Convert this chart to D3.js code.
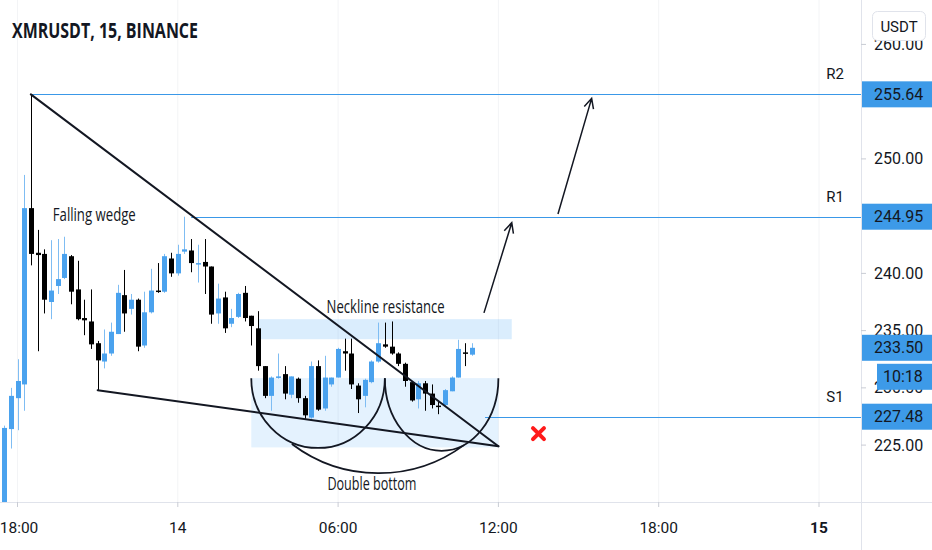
<!DOCTYPE html>
<html><head><meta charset="utf-8">
<script src="https://cdn.jsdelivr.net/npm/d3@7"></script>
<style>html,body{margin:0;padding:0;background:#fff;}svg{display:block;}</style>
</head><body>
<svg id="c" width="932" height="550"></svg>
<script>
// ---- candle data (15-minute bars, first bar 13th 17:30) ----
const opens  = [220.0,226.4,229.1,230.3,245.7,241.8,241.7,237.5,238.9,239.6,241.5,238.6,236.1,235.8,233.9,232.3,233.0,234.7,238.1,236.9,237.7,233.7,236.6,238.5,238.4,241.3,240.0,241.9,242.0,240.8,241.0,240.6,236.5,237.9,235.6,236.2,238.3,236.3,235.2,231.9,229.3,230.9,231.2,229.4,230.8,229.1,227.4,231.9,228.2,230.3,230.9,233.2,233.0,230.2,229.3,230.5,232.3,233.8,233.6,233.0,232.1,230.5,229.0,230.4,229.5,228.45,228.5,229.7,230.9,233.1,232.9];
const highs  = [226.7,230.0,232.5,248.6,255.64,243.8,242.1,242.9,243.0,243.2,241.6,241.1,237.7,238.6,234.1,235.1,235.7,239.0,240.3,238.2,237.8,238.4,240.4,240.9,241.7,241.8,242.5,244.95,243.0,242.5,243.0,240.6,239.1,238.4,236.9,238.3,238.9,236.3,236.7,231.9,231.0,233.0,231.9,231.0,230.9,229.3,232.3,232.4,232.8,230.9,233.5,234.3,234.3,230.4,230.8,232.4,235.7,235.7,235.8,233.1,232.2,230.6,230.6,230.6,230.3,228.9,229.9,231.0,234.2,233.9,233.9];
const lows   = [219.5,224.7,226.3,228.0,240.7,233.2,236.5,236.0,238.2,239.5,237.3,235.9,234.6,233.4,229.8,231.7,232.8,234.7,234.9,236.4,233.2,233.5,236.5,238.3,238.3,239.7,239.8,241.7,240.1,239.2,238.2,235.6,235.6,234.8,235.3,236.1,235.8,233.7,231.5,229.1,228.0,230.8,229.0,229.1,228.7,227.3,227.3,228.0,228.0,230.1,230.9,231.5,229.9,227.8,228.3,230.4,232.2,233.5,232.9,231.9,230.1,228.8,228.2,228.0,228.2,227.7,228.4,229.7,230.9,231.9,232.8];
const closes = [226.5,229.3,230.6,245.7,241.7,241.6,237.7,238.5,239.5,241.7,238.4,236.0,235.9,233.8,232.4,233.0,234.9,238.3,236.5,237.7,233.6,236.6,238.5,238.4,241.5,240.0,241.7,242.1,240.9,240.9,240.6,236.4,237.8,235.2,236.1,238.2,236.1,235.4,231.9,229.3,230.9,231.0,229.5,231.0,229.1,227.6,231.9,228.1,230.9,230.9,233.4,233.0,230.3,229.0,230.7,232.3,233.9,233.6,233.0,232.1,230.6,228.9,230.4,229.5,228.5,228.4,229.8,230.9,233.4,233.0,233.5];

// ---- axes ----
const timeTickHours  = [0, 6, 12, 18, 24, 30];           // hours after 13th 18:00
const timeTickLabels = ["18:00", "14", "06:00", "12:00", "18:00", "15"];
const priceTicks     = [260, 250, 240, 235, 230, 225];

// ---- levels ----
const levelNames  = ["R2", "R1", "S1"];
const levelPrices = [255.64, 244.95, 227.48];
const levelFromH  = [0.5, 6.5, 17.5];
const lastPrice   = 233.50;
const countdown   = "10:18";

// ---- drawings (hour offset, price) ----
const wedgeUpper = [[0.5, 255.64], [18.0, 224.9]];
const wedgeLower = [[3.0, 229.8], [18.0, 224.9]];
const necklineZone = [[9.0, 236.0], [18.5, 234.25]];
const bottomZone   = [[8.75, 230.85], [18.0, 224.8]];
const cupLeft  = [8.75, 13.75, 230.85, 224.75];   // x0, x1, top, bottom
const cupRight = [13.75, 18.0, 230.85, 224.5];
const bigArc   = [[10.27, 225.1], [16.71, 225.0], 222.55];
const arrows   = [[[17.46, 236.55], [18.5, 244.43]], [[20.23, 245.18], [21.49, 255.29]]];
const crossMark = [19.5, 226.0];

const svg = d3.select("#c");
const W = 932, H = 550, plotR = 861, plotB = 502;
const t0 = new Date(2023, 0, 13, 18, 0);
const atH = h => new Date(t0.getTime() + h * 3600e3);
const firstBar = new Date(2023, 0, 13, 17, 30);
const times = opens.map((_, i) => new Date(firstBar.getTime() + i * 15 * 60e3));

const x = d3.scaleTime().domain([atH(0), atH(30)]).range([17.5, 819]);
const y = d3.scaleLinear().domain([225, 250]).range([445.1, 158.9]);
const X = h => x(atH(h));

const BLUE = "#4aa2ee", LINEBLUE = "#3a98e8", BOXBLUE = "#3d9ae8", INK = "#131722";
const FONT = "Roboto, 'Noto Sans', sans-serif";

svg.append("rect").attr("width", W).attr("height", H).attr("fill", "#fff");
svg.append("defs").append("clipPath").attr("id", "plot")
  .append("rect").attr("x", 0).attr("y", 0).attr("width", plotR).attr("height", plotB);

// faint grid
svg.append("g").selectAll("line").data(timeTickHours).join("line")
  .attr("x1", d => X(d)).attr("x2", d => X(d)).attr("y1", 0).attr("y2", plotB)
  .attr("stroke", "#f3f4f6").attr("stroke-width", 1);

const plot = svg.append("g").attr("clip-path", "url(#plot)");

// zones
const zone = (z, op) => plot.append("rect")
  .attr("x", X(z[0][0])).attr("y", y(z[0][1]))
  .attr("width", X(z[1][0]) - X(z[0][0])).attr("height", y(z[1][1]) - y(z[0][1]))
  .attr("fill", "#2196f3").attr("fill-opacity", op);
zone(necklineZone, 0.17);
zone(bottomZone, 0.12);

// candles
const bw = 5;
const cg = plot.append("g");
opens.forEach((o, i) => {
  const c = closes[i], up = c > o;
  const cx = Math.round(x(times[i])) + 0.5;
  cg.append("line").attr("x1", cx).attr("x2", cx)
    .attr("y1", y(highs[i])).attr("y2", y(lows[i]))
    .attr("stroke", up ? "#7fbdf3" : "#000").attr("stroke-width", 1);
  const top = y(Math.max(o, c)), bot = y(Math.min(o, c));
  cg.append("rect").attr("x", cx - bw / 2).attr("y", top)
    .attr("width", bw).attr("height", Math.max(1.5, bot - top))
    .attr("fill", up ? BLUE : "#000");
});

// level lines
levelPrices.forEach((p, i) => {
  plot.append("line").attr("x1", X(levelFromH[i])).attr("x2", plotR)
    .attr("y1", Math.round(y(p)) + 0.5).attr("y2", Math.round(y(p)) + 0.5)
    .attr("stroke", LINEBLUE).attr("stroke-width", 1.2);
  svg.append("text").attr("x", 835).attr("y", y(p) - 20).attr("text-anchor", "middle")
    .attr("font-family", FONT).attr("font-size", 15).attr("fill", INK)
    .attr("dominant-baseline", "central").text(levelNames[i]);
});

// wedge
const seg = (pts, w) => plot.append("line")
  .attr("x1", X(pts[0][0])).attr("y1", y(pts[0][1]))
  .attr("x2", X(pts[1][0])).attr("y2", y(pts[1][1]))
  .attr("stroke", INK).attr("stroke-width", w).attr("stroke-linecap", "round");
seg(wedgeUpper, 2);
seg(wedgeLower, 2);

// cups
const cup = c => {
  const x0 = X(c[0]), x1 = X(c[1]), yt = y(c[2]), yb = y(c[3]);
  plot.append("path")
    .attr("d", `M${x0},${yt} A${(x1 - x0) / 2},${yb - yt} 0 0 0 ${x1},${yt}`)
    .attr("fill", "none").attr("stroke", INK).attr("stroke-width", 1.8);
};
cup(cupLeft); cup(cupRight);
{
  const ax0 = X(bigArc[0][0]), ay0 = y(bigArc[0][1]), ax1 = X(bigArc[1][0]), ay1 = y(bigArc[1][1]);
  const sag = y(bigArc[2]) - (ay0 + ay1) / 2, half = (ax1 - ax0) / 2;
  const r = (half * half + sag * sag) / (2 * sag);
  plot.append("path").attr("d", `M${ax0},${ay0} A${r},${r} 0 0 0 ${ax1},${ay1}`)
    .attr("fill", "none").attr("stroke", INK).attr("stroke-width", 1.8);
}

// arrows
arrows.forEach(a => {
  const xa = X(a[0][0]), ya = y(a[0][1]), xb = X(a[1][0]), yb = y(a[1][1]);
  const ang = Math.atan2(yb - ya, xb - xa), L = 11, sp = 0.45;
  plot.append("path")
    .attr("d", `M${xa},${ya} L${xb},${yb} M${xb - L * Math.cos(ang - sp)},${yb - L * Math.sin(ang - sp)} L${xb},${yb} L${xb - L * Math.cos(ang + sp)},${yb - L * Math.sin(ang + sp)}`)
    .attr("fill", "none").attr("stroke", INK).attr("stroke-width", 1.5)
    .attr("stroke-linejoin", "miter");
});

// red cross
{
  const cx = X(crossMark[0]), cy = y(crossMark[1]), s = 5.5;
  plot.append("path").attr("d", `M${cx - s},${cy - s} L${cx + s},${cy + s} M${cx + s},${cy - s} L${cx - s},${cy + s}`)
    .attr("stroke", "#ff1a1a").attr("stroke-width", 4).attr("stroke-linecap", "round");
}

// annotation texts
const note = (txt, h, p, len, fs) => svg.append("text")
  .attr("x", X(h)).attr("y", y(p)).attr("font-family", "'Open Sans', sans-serif")
  .attr("font-size", fs).attr("fill", INK)
  .attr("textLength", len).attr("lengthAdjust", "spacingAndGlyphs").text(txt);
note("Falling wedge", 1.32, 244.6, 83, 18);
note("Neckline resistance", 11.57, 236.5, 118, 18);
note("Double bottom", 11.6, 221.1, 89, 17.5);

// axes frame
svg.append("line").attr("x1", plotR + 0.5).attr("x2", plotR + 0.5).attr("y1", 0).attr("y2", H)
  .attr("stroke", "#e0e3eb");
svg.append("line").attr("x1", 0).attr("x2", W).attr("y1", plotB + 0.5).attr("y2", plotB + 0.5)
  .attr("stroke", "#e0e3eb");

// bottom axis
const bx = svg.append("g");
timeTickHours.forEach((h, i) => {
  bx.append("line").attr("x1", X(h)).attr("x2", X(h)).attr("y1", plotB).attr("y2", plotB + 5)
    .attr("stroke", "#c9ccd4");
  bx.append("text").attr("x", Math.max(X(h), 19)).attr("y", 528).attr("text-anchor", "middle")
    .attr("dominant-baseline", "central").attr("font-family", FONT).attr("font-size", 15.5)
    .attr("font-weight", timeTickLabels[i] === "15" ? 700 : 400).attr("fill", INK)
    .text(timeTickLabels[i]);
});

// right axis
const ry = svg.append("g");
priceTicks.forEach(p => {
  ry.append("line").attr("x1", plotR).attr("x2", plotR + 5).attr("y1", y(p)).attr("y2", y(p))
    .attr("stroke", "#c9ccd4");
  ry.append("text").attr("x", 874).attr("y", y(p)).attr("dominant-baseline", "central")
    .attr("font-family", FONT).attr("font-size", 16).attr("fill", INK).text(p.toFixed(2));
});
const box = (p, label, x0, yc) => {
  ry.append("rect").attr("x", x0).attr("y", yc - 13).attr("width", W - x0).attr("height", 26)
    .attr("fill", BOXBLUE);
  ry.append("text").attr("x", x0 === plotR + 1 ? 874 : x0 + 6).attr("y", yc).attr("dominant-baseline", "central")
    .attr("font-family", FONT).attr("font-size", 16).attr("fill", INK).text(label);
};
levelPrices.forEach(p => box(p, p.toFixed(2), plotR + 1, y(p)));
box(lastPrice, lastPrice.toFixed(2), plotR + 1, y(lastPrice));
box(lastPrice, countdown, 877, y(lastPrice) + 29);

// USDT button
svg.append("rect").attr("x", 872.5).attr("y", 11.5).attr("width", 53).attr("height", 29).attr("rx", 5)
  .attr("fill", "#fff").attr("stroke", "#e0e3eb");
svg.append("text").attr("x", 899).attr("y", 26.5).attr("text-anchor", "middle").attr("dominant-baseline", "central")
  .attr("font-family", FONT).attr("font-size", 15).attr("fill", INK).text("USDT");

// title
svg.append("text").attr("x", 12).attr("y", 38).attr("font-family", "'Open Sans', sans-serif")
  .attr("font-size", 21).attr("font-weight", 700).attr("fill", INK)
  .attr("textLength", 186).attr("lengthAdjust", "spacingAndGlyphs").text("XMRUSDT, 15, BINANCE");
</script>
</body></html>
